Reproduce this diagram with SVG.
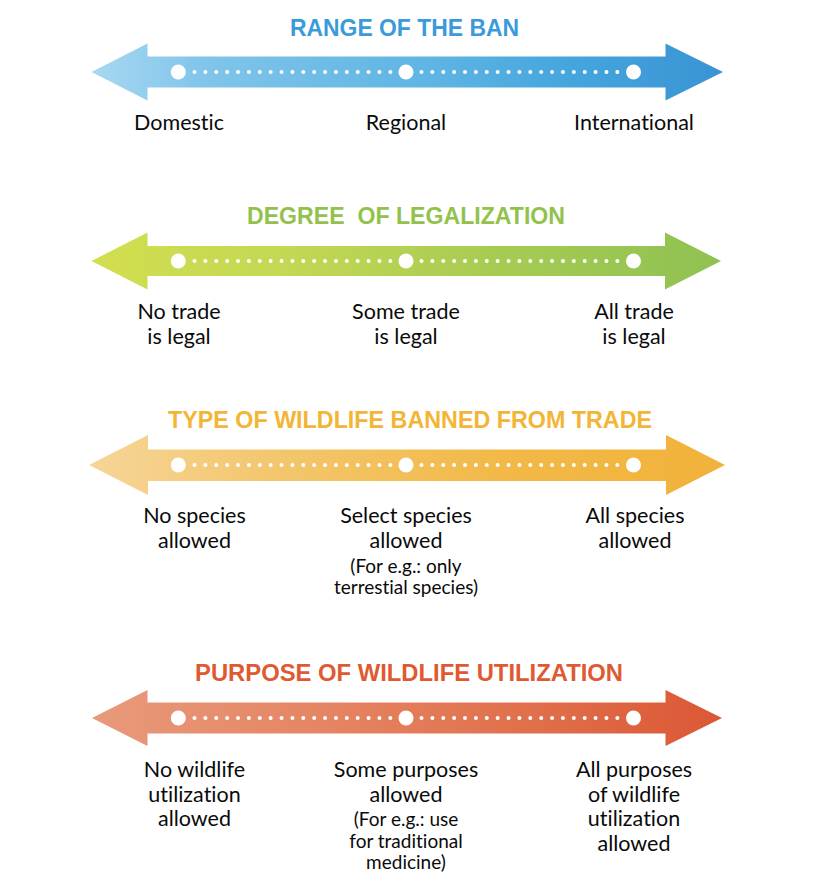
<svg xmlns="http://www.w3.org/2000/svg" width="837" height="894" viewBox="0 0 837 894">
<defs>
<linearGradient id="gBlue" gradientUnits="userSpaceOnUse" x1="90" y1="0" x2="725" y2="0">
<stop offset="0" stop-color="#a9d8f1"/><stop offset="0.18" stop-color="#80c5ea"/><stop offset="0.55" stop-color="#5db4e3"/><stop offset="0.75" stop-color="#45a6de"/><stop offset="1" stop-color="#3a93d3"/>
</linearGradient>
<linearGradient id="gGreen" gradientUnits="userSpaceOnUse" x1="90" y1="0" x2="725" y2="0">
<stop offset="0" stop-color="#d2de4e"/><stop offset="0.3" stop-color="#c4d853"/><stop offset="0.65" stop-color="#a6cb52"/><stop offset="1" stop-color="#8fc153"/>
</linearGradient>
<linearGradient id="gYellow" gradientUnits="userSpaceOnUse" x1="90" y1="0" x2="725" y2="0">
<stop offset="0" stop-color="#f6d597"/><stop offset="0.3" stop-color="#f3c66c"/><stop offset="0.65" stop-color="#f2b948"/><stop offset="1" stop-color="#f1b23a"/>
</linearGradient>
<linearGradient id="gOrange" gradientUnits="userSpaceOnUse" x1="90" y1="0" x2="725" y2="0">
<stop offset="0" stop-color="#e89a7b"/><stop offset="0.35" stop-color="#e58664"/><stop offset="0.7" stop-color="#e06f4b"/><stop offset="1" stop-color="#dc5734"/>
</linearGradient>
</defs>
<style>
.title{font-family:"Liberation Sans",Arial,sans-serif;font-weight:bold;font-size:23px;}
.lbl{font-family:Lato,"Liberation Sans",sans-serif;font-size:21.5px;fill:#0a0a0a;text-anchor:middle;font-variant-ligatures:none;}
.sm{font-family:Lato,"Liberation Sans",sans-serif;font-size:19px;fill:#0a0a0a;text-anchor:middle;font-variant-ligatures:none;}
.node{fill:#fff;}
.dots{stroke:#fff;stroke-width:4;stroke-linecap:round;stroke-dasharray:0 10.88;fill:none;}
</style>
<rect width="837" height="894" fill="#fff"/>

<g id="scale-range">
<text class="title" x="290" y="36" textLength="229" lengthAdjust="spacingAndGlyphs" fill="#3b9ad9">RANGE OF THE BAN</text>
<path d="M91.5,72 L147.5,43.5 L147.5,56.5 L665.5,56.5 L665.5,43.5 L723,72 L665.5,100.5 L665.5,87.5 L147.5,87.5 L147.5,100.5 Z" fill="url(#gBlue)"/>
<g id="range-domestic"><circle class="node" cx="178.3" cy="72" r="7.5"/><text class="lbl" x="179" y="129.5">Domestic</text></g>
<g id="range-regional"><circle class="node" cx="406" cy="72" r="7.5"/><text class="lbl" x="406" y="129.5">Regional</text></g>
<g id="range-international"><circle class="node" cx="633.5" cy="72" r="7.5"/><text class="lbl" x="634" y="129.5">International</text></g>
</g>

<g id="scale-legalization">
<text class="title" x="247" y="224" textLength="318" lengthAdjust="spacingAndGlyphs" fill="#93c24c" xml:space="preserve">DEGREE  OF LEGALIZATION</text>
<path d="M91.5,261 L147.5,232.5 L147.5,246 L665,246 L665,232.5 L721,261 L665,289.5 L665,276 L147.5,276 L147.5,289.5 Z" fill="url(#gGreen)"/>
<g id="legal-none"><circle class="node" cx="178.3" cy="261" r="7.5"/><text class="lbl" x="179" y="319">No trade</text><text class="lbl" x="179" y="344">is legal</text></g>
<g id="legal-some"><circle class="node" cx="406" cy="261" r="7.5"/><text class="lbl" x="406" y="319">Some trade</text><text class="lbl" x="406" y="344">is legal</text></g>
<g id="legal-all"><circle class="node" cx="633.5" cy="261" r="7.5"/><text class="lbl" x="634" y="319">All trade</text><text class="lbl" x="634" y="344">is legal</text></g>
</g>

<g id="scale-wildlife-type">
<text class="title" x="168" y="427.5" textLength="484" lengthAdjust="spacingAndGlyphs" fill="#f3b535">TYPE OF WILDLIFE BANNED FROM TRADE</text>
<path d="M89,465 L148,435 L148,449.5 L666,449.5 L666,435 L725,465 L666,495 L666,481 L148,481 L148,495 Z" fill="url(#gYellow)"/>
<g id="type-none"><circle class="node" cx="178.3" cy="465" r="7.5"/><text class="lbl" x="194.5" y="523">No species</text><text class="lbl" x="194.5" y="548">allowed</text></g>
<g id="type-select"><circle class="node" cx="406" cy="465" r="7.5"/><text class="lbl" x="406" y="523">Select species</text><text class="lbl" x="406" y="548">allowed</text><text class="sm" x="406" y="573">(For e.g.: only</text><text class="sm" x="406" y="594">terrestial species)</text></g>
<g id="type-all"><circle class="node" cx="633.5" cy="465" r="7.5"/><text class="lbl" x="635" y="523">All species</text><text class="lbl" x="635" y="548">allowed</text></g>
</g>

<g id="scale-purpose">
<text class="title" x="195" y="681" textLength="428" lengthAdjust="spacingAndGlyphs" fill="#e05a31">PURPOSE OF WILDLIFE UTILIZATION</text>
<path d="M92,718 L147.5,690 L147.5,702.5 L665.5,702.5 L665.5,690 L722,718 L665.5,746 L665.5,733.5 L147.5,733.5 L147.5,746 Z" fill="url(#gOrange)"/>
<g id="purpose-none"><circle class="node" cx="178.3" cy="718" r="7.5"/><text class="lbl" x="194.5" y="777">No wildlife</text><text class="lbl" x="194.5" y="802">utilization</text><text class="lbl" x="194.5" y="826">allowed</text></g>
<g id="purpose-some"><circle class="node" cx="406" cy="718" r="7.5"/><text class="lbl" x="406" y="777">Some purposes</text><text class="lbl" x="406" y="802">allowed</text><text class="sm" x="406" y="826">(For e.g.: use</text><text class="sm" x="406" y="848">for traditional</text><text class="sm" x="406" y="869">medicine)</text></g>
<g id="purpose-all"><circle class="node" cx="633.5" cy="718" r="7.5"/><text class="lbl" x="634" y="777">All purposes</text><text class="lbl" x="634" y="802">of wildlife</text><text class="lbl" x="634" y="826">utilization</text><text class="lbl" x="634" y="851">allowed</text></g>
</g>

<g id="connectors">
<path class="dots" d="M194.5,72 H390.7 M421.5,72 H617.7"/>
<path class="dots" d="M194.5,261 H390.7 M421.5,261 H617.7"/>
<path class="dots" d="M194.5,465 H390.7 M421.5,465 H617.7"/>
<path class="dots" d="M194.5,718 H390.7 M421.5,718 H617.7"/>
</g>
</svg>
